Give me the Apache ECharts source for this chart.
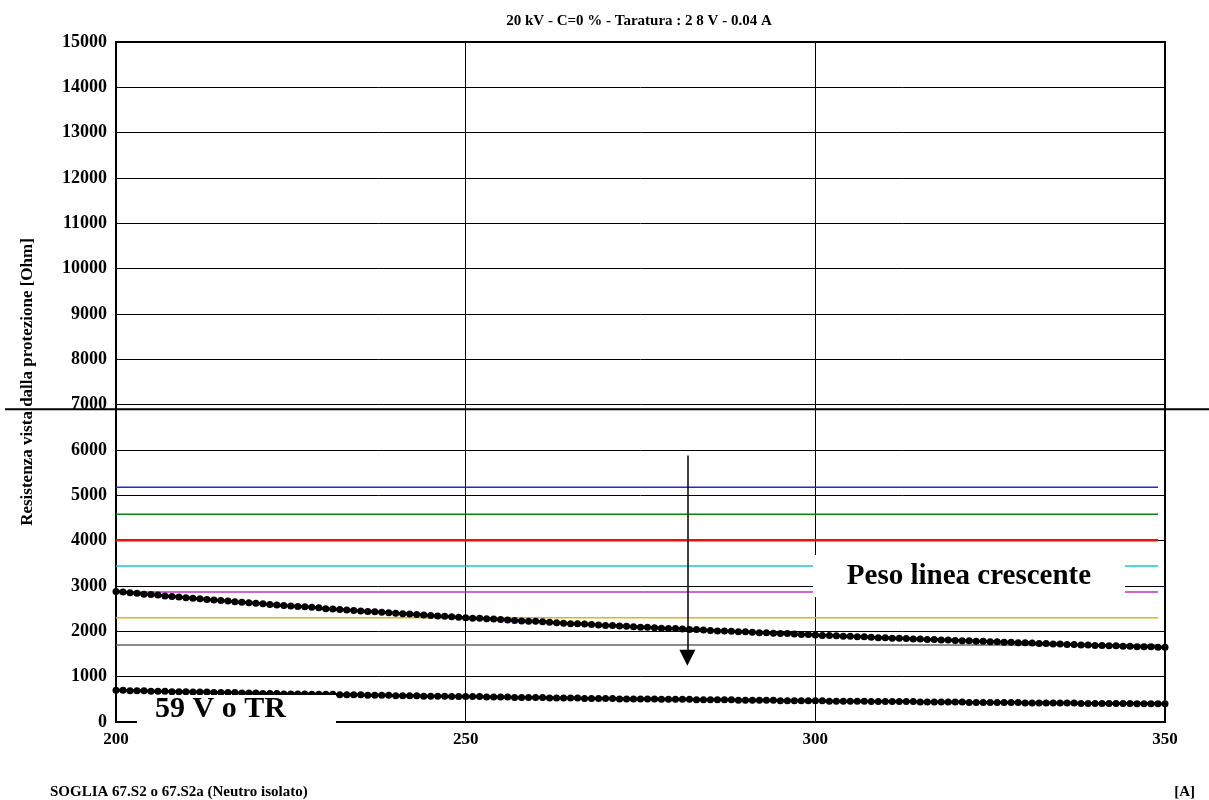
<!DOCTYPE html>
<html>
<head>
<meta charset="utf-8">
<script src="https://cdn.jsdelivr.net/npm/echarts@6/dist/echarts.min.js"></script>
<style>
html, body { margin: 0; background: #fff; }
#main { width: 1209px; height: 800px; }
</style>
</head>
<body>
<div id="main"></div>
<script>
var chartDom = document.getElementById('main');
var myChart = echarts.init(chartDom);
var option;

var serif = 'Liberation Serif, Times New Roman, serif';

// currents on the x axis [A], one sample per ampere
var currents = [];
for (var a = 200; a <= 350; a++) currents.push(a);

// upper curve
var upperOhm = [
    2880, 2870, 2850, 2840, 2820, 2810, 2800, 2780, 2770, 2760,
    2740, 2730, 2720, 2700, 2690, 2680, 2670, 2650, 2640, 2630,
    2620, 2610, 2590, 2580, 2570, 2560, 2550, 2540, 2530, 2520,
    2500, 2490, 2480, 2470, 2460, 2450, 2440, 2430, 2420, 2410,
    2400, 2390, 2380, 2370, 2360, 2350, 2340, 2330, 2320, 2310,
    2300, 2290, 2290, 2280, 2270, 2260, 2250, 2240, 2230, 2220,
    2220, 2210, 2200, 2190, 2180, 2170, 2170, 2160, 2150, 2140,
    2130, 2130, 2120, 2110, 2100, 2090, 2090, 2080, 2070, 2060,
    2060, 2050, 2040, 2040, 2030, 2020, 2010, 2010, 2000, 1990,
    1990, 1980, 1970, 1970, 1960, 1950, 1950, 1940, 1930, 1930,
    1920, 1910, 1910, 1900, 1890, 1890, 1880, 1880, 1870, 1860,
    1860, 1850, 1850, 1840, 1830, 1830, 1820, 1820, 1810, 1810,
    1800, 1790, 1790, 1780, 1780, 1770, 1770, 1760, 1760, 1750,
    1750, 1740, 1730, 1730, 1720, 1720, 1710, 1710, 1700, 1700,
    1690, 1690, 1680, 1680, 1670, 1670, 1660, 1660, 1660, 1650,
    1650
];

// lower curve
var lowerOhm = [
    700, 700, 690, 690, 690, 680, 680, 680, 670, 670,
    670, 660, 660, 660, 650, 650, 650, 650, 640, 640,
    640, 630, 630, 630, 620, 620, 620, 620, 610, 610,
    610, 610, 600, 600, 600, 600, 590, 590, 590, 590,
    580, 580, 580, 580, 570, 570, 570, 570, 560, 560,
    560, 560, 560, 550, 550, 550, 550, 540, 540, 540,
    540, 540, 530, 530, 530, 530, 530, 520, 520, 520,
    520, 520, 510, 510, 510, 510, 510, 510, 500, 500,
    500, 500, 500, 490, 490, 490, 490, 490, 490, 480,
    480, 480, 480, 480, 480, 470, 470, 470, 470, 470,
    470, 470, 460, 460, 460, 460, 460, 460, 450, 450,
    450, 450, 450, 450, 450, 440, 440, 440, 440, 440,
    440, 440, 430, 430, 430, 430, 430, 430, 430, 430,
    420, 420, 420, 420, 420, 420, 420, 420, 410, 410,
    410, 410, 410, 410, 410, 410, 400, 400, 400, 400,
    400
];

// horizontal reference levels [Ohm]
var refLevels = [5180, 4580, 4010, 3440, 2870, 2300, 1700];
var refColors = ['#2626d9', '#128012', '#f01010', '#20c4c4', '#c030c0', '#c8c020', '#666666'];
var refWidths = [1.5, 1.5, 2.5, 1.5, 1.5, 1.5, 1.5];
var refEnd = 349;

var yTicks = [0, 1000, 2000, 3000, 4000, 5000, 6000, 7000, 8000, 9000, 10000, 11000, 12000, 13000, 14000, 15000];
var xTicks = [200, 250, 300, 350];

// arrow annotation "Peso linea crescente"
var arrowX = 281.7;
var arrowFrom = 5880;
var arrowTo = 1420;
var crossLine = 6900;

function pairs(xs, ys) {
    return xs.map(function (x, i) { return [x, ys[i]]; });
}

var series = refLevels.map(function (v, i) {
    return {
        type: 'line',
        data: [[200, v], [refEnd, v]],
        symbol: 'none',
        silent: true,
        z: 1,
        lineStyle: { color: refColors[i], width: refWidths[i] }
    };
});

[upperOhm, lowerOhm].forEach(function (vals) {
    series.push({
        type: 'line',
        data: pairs(currents, vals),
        symbol: 'circle',
        symbolSize: 7,
        showAllSymbol: true,
        z: 3,
        lineStyle: { color: '#000', width: 3 },
        itemStyle: { color: '#000' }
    });
});

series.push({
    type: 'line',
    data: [],
    z: 5,
    markLine: {
        silent: true,
        symbol: ['none', 'triangle'],
        symbolSize: [16, 16],
        label: { show: false },
        lineStyle: { color: '#000', width: 1.5, type: 'solid' },
        data: [[{ coord: [arrowX, arrowFrom] }, { coord: [arrowX, arrowTo] }]]
    }
});

option = {
    animation: false,
    backgroundColor: '#fff',
    textStyle: { fontFamily: serif },
    title: {
        text: '20 kV - C=0 % - Taratura : 2 8 V - 0.04 A',
        left: 634,
        textAlign: 'center',
        top: 9,
        textStyle: { fontFamily: serif, fontWeight: 'bold', fontSize: 15, color: '#000' }
    },
    grid: {
        left: 116,
        right: 44,
        top: 42,
        bottom: 78,
        show: true,
        borderColor: '#000',
        borderWidth: 2
    },
    xAxis: {
        type: 'value',
        min: xTicks[0],
        max: xTicks[xTicks.length - 1],
        interval: 50,
        axisLine: { lineStyle: { color: '#000', width: 2 } },
        axisTick: { show: false },
        splitLine: { lineStyle: { color: '#000', width: 1 } },
        axisLabel: { color: '#000', fontFamily: serif, fontWeight: 'bold', fontSize: 17, margin: 9 }
    },
    yAxis: {
        type: 'value',
        min: yTicks[0],
        max: yTicks[yTicks.length - 1],
        interval: 1000,
        name: 'Resistenza vista dalla protezione [Ohm]',
        nameLocation: 'middle',
        nameGap: 80,
        nameTextStyle: { color: '#000', fontFamily: serif, fontWeight: 'bold', fontSize: 17 },
        axisLine: { show: true, lineStyle: { color: '#000', width: 2 } },
        axisTick: { show: false },
        splitLine: { lineStyle: { color: '#000', width: 1 } },
        axisLabel: {
            color: '#000', fontFamily: serif, fontWeight: 'bold', fontSize: 18, margin: 9,
            formatter: function (v) { return String(v); }
        }
    },
    series: series
};

option && myChart.setOption(option);

// long line across the whole picture and the two label boxes
var yCross = myChart.convertToPixel({ yAxisIndex: 0 }, crossLine);
myChart.setOption({
    graphic: [
        {
            type: 'line', z: 100,
            shape: { x1: 5, y1: yCross, x2: 1209, y2: yCross },
            style: { stroke: '#000', lineWidth: 2 }
        },
        {
            type: 'rect', z: 100,
            shape: { x: 813, y: 555, width: 312, height: 42 },
            style: { fill: '#fff' }
        },
        {
            type: 'text', z: 101,
            x: 969, y: 577,
            style: {
                text: 'Peso linea crescente',
                font: 'bold 29px ' + serif,
                fill: '#000',
                align: 'center',
                verticalAlign: 'middle'
            }
        },
        {
            type: 'rect', z: 100,
            shape: { x: 137, y: 695, width: 199, height: 30 },
            style: { fill: '#fff' }
        },
        {
            type: 'text', z: 101,
            x: 155, y: 709,
            style: {
                text: '59 V o TR',
                font: 'bold 30px ' + serif,
                fill: '#000',
                align: 'left',
                verticalAlign: 'middle'
            }
        },
        {
            type: 'text', z: 101,
            x: 50, y: 792,
            style: {
                text: 'SOGLIA 67.S2 o 67.S2a (Neutro isolato)',
                font: 'bold 15px ' + serif,
                fill: '#000',
                align: 'left',
                verticalAlign: 'middle'
            }
        },
        {
            type: 'text', z: 101,
            x: 1195, y: 792,
            style: {
                text: '[A]',
                font: 'bold 15px ' + serif,
                fill: '#000',
                align: 'right',
                verticalAlign: 'middle'
            }
        }
    ]
});
</script>
</body>
</html>
